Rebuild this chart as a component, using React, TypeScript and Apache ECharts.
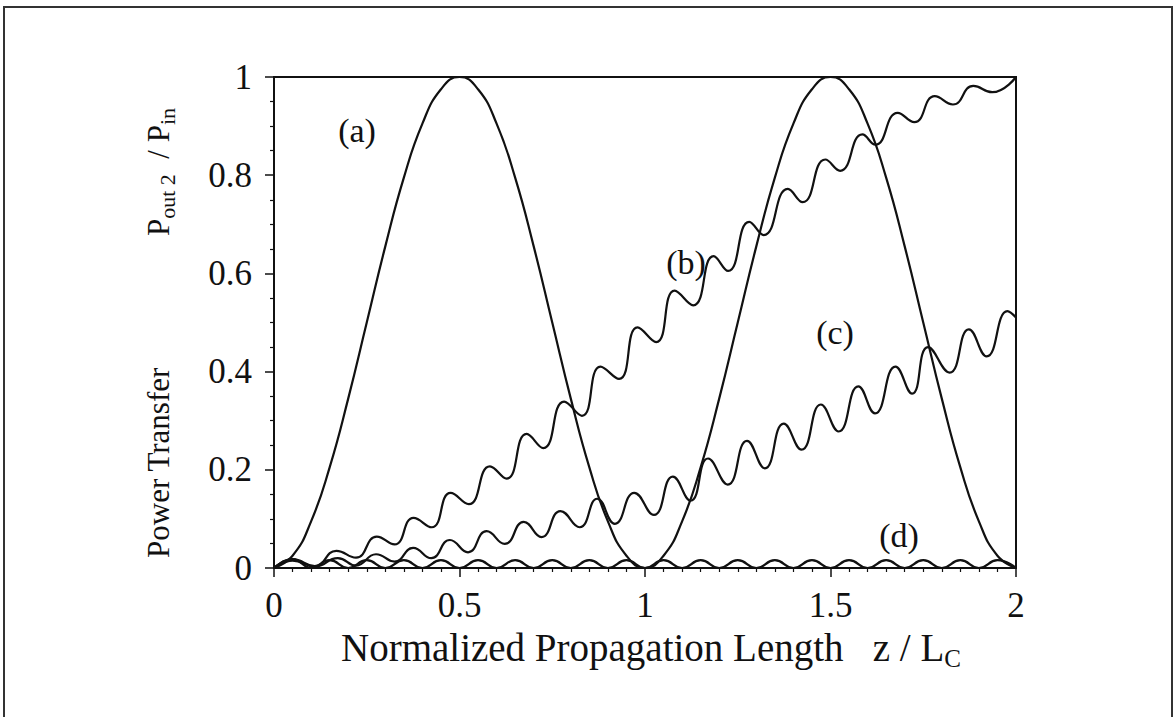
import React, { useEffect, useRef } from "react";
import * as echarts from "echarts";

// Curve (a): full power exchange between the two guides
const curveA: [number, number][] = [
  [0, 0], [0.05, 0.025], [0.1, 0.095], [0.15, 0.205], [0.2, 0.345], [0.25, 0.5],
  [0.3, 0.655], [0.35, 0.795], [0.4, 0.905], [0.45, 0.975], [0.5, 1.0],
  [0.55, 0.975], [0.6, 0.905], [0.65, 0.795], [0.7, 0.655], [0.75, 0.5],
  [0.8, 0.345], [0.85, 0.205], [0.9, 0.095], [0.95, 0.025], [1.0, 0],
  [1.05, 0.025], [1.1, 0.095], [1.15, 0.205], [1.2, 0.345], [1.25, 0.5],
  [1.3, 0.655], [1.35, 0.795], [1.4, 0.905], [1.45, 0.975], [1.5, 1.0],
  [1.55, 0.975], [1.6, 0.905], [1.65, 0.795], [1.7, 0.655], [1.75, 0.5],
  [1.8, 0.345], [1.85, 0.205], [1.9, 0.095], [1.95, 0.025], [2.0, 0],
];

// Curve (b)
const curveB: [number, number][] = [
  [0, 0], [0.05, 0.018], [0.11, 0.004], [0.168, 0.035], [0.221, 0.021],
  [0.277, 0.064], [0.325, 0.048], [0.376, 0.102], [0.425, 0.083], [0.476, 0.153],
  [0.525, 0.13], [0.582, 0.207], [0.627, 0.182], [0.681, 0.273], [0.726, 0.244],
  [0.782, 0.339], [0.83, 0.31], [0.88, 0.41], [0.93, 0.385], [0.98, 0.49],
  [1.03, 0.46], [1.08, 0.565], [1.13, 0.535], [1.185, 0.635], [1.224, 0.605],
  [1.281, 0.705], [1.32, 0.678], [1.385, 0.772], [1.425, 0.745], [1.486, 0.832],
  [1.526, 0.809], [1.586, 0.883], [1.621, 0.862], [1.681, 0.927], [1.726, 0.908],
  [1.781, 0.961], [1.83, 0.944], [1.885, 0.982], [1.936, 0.969], [2.0, 1.0],
];

// Curve (c)
const curveC: [number, number][] = [
  [0, 0], [0.05, 0.015], [0.11, 0.003], [0.172, 0.02], [0.221, 0.005],
  [0.275, 0.028], [0.325, 0.013], [0.375, 0.041], [0.424, 0.02], [0.474, 0.057],
  [0.523, 0.032], [0.573, 0.075], [0.622, 0.049], [0.673, 0.094], [0.721, 0.063],
  [0.772, 0.116], [0.824, 0.083], [0.871, 0.141], [0.919, 0.09], [0.971, 0.153],
  [1.024, 0.108], [1.075, 0.186], [1.123, 0.137], [1.17, 0.223], [1.223, 0.17],
  [1.275, 0.259], [1.323, 0.203], [1.374, 0.294], [1.422, 0.241], [1.474, 0.333],
  [1.522, 0.278], [1.575, 0.37], [1.62, 0.315], [1.675, 0.41], [1.72, 0.355],
  [1.763, 0.45], [1.821, 0.398], [1.873, 0.486], [1.921, 0.431], [1.977, 0.523],
  [2.0, 0.51],
];

// Curve (d): small ripples that never build up
const curveD: [number, number][] = [
  [0, 0], [0.05, 0.018], [0.1, 0], [0.15, 0.016], [0.2, 0], [0.25, 0.016], [0.3, 0],
  [0.35, 0.016], [0.4, 0], [0.45, 0.016], [0.5, 0], [0.55, 0.016], [0.6, 0],
  [0.65, 0.016], [0.7, 0], [0.75, 0.016], [0.8, 0], [0.85, 0.016], [0.9, 0],
  [0.95, 0.016], [1.0, 0], [1.05, 0.016], [1.1, 0], [1.15, 0.016], [1.2, 0],
  [1.25, 0.016], [1.3, 0], [1.35, 0.016], [1.4, 0], [1.45, 0.016], [1.5, 0],
  [1.55, 0.016], [1.6, 0], [1.65, 0.016], [1.7, 0], [1.75, 0.016], [1.8, 0],
  [1.85, 0.016], [1.9, 0], [1.95, 0.016], [2.0, 0],
];

const xTicks = [0, 0.5, 1, 1.5, 2];
const yTicks = [0, 0.2, 0.4, 0.6, 0.8, 1];

const curveLabels = [
  { text: "(a)", x: 357, y: 130 },
  { text: "(b)", x: 686, y: 262 },
  { text: "(c)", x: 835, y: 332 },
  { text: "(d)", x: 899, y: 535 },
];

const SERIF = '"Liberation Serif", "Times New Roman", serif';

export default function App() {
  const ref = useRef<HTMLDivElement>(null);
  useEffect(() => {
    if (!ref.current) return;
    const chart = echarts.init(ref.current, null, { renderer: "svg" });
    const lineSeries = (name: string, data: [number, number][]) => ({
      name,
      type: "line",
      data,
      smooth: 0.5,
      showSymbol: false,
      symbol: "none",
      lineStyle: { color: "#111", width: 2.2 },
      z: 3,
    });
    chart.setOption({
      animation: false,
      backgroundColor: "#fff",
      grid: {
        left: 274,
        right: 159,
        top: 77,
        bottom: 149,
        show: true,
        borderColor: "#111",
        borderWidth: 2,
        backgroundColor: "transparent",
      },
      xAxis: {
        type: "value",
        min: 0,
        max: 2,
        interval: 0.5,
        axisLine: { show: true, onZero: false, lineStyle: { color: "#111", width: 2 } },
        axisTick: { show: true, length: 9, inside: false, lineStyle: { color: "#111", width: 1.5 } },
        minorTick: { show: true, splitNumber: 10, length: 4, lineStyle: { color: "#111", width: 1.2 } },
        splitLine: { show: false },
        minorSplitLine: { show: false },
        axisLabel: {
          margin: 20,
          fontSize: 35,
          fontFamily: SERIF,
          color: "#111",
          formatter: (v: number) => (xTicks.includes(v) ? String(v) : ""),
        },
      },
      yAxis: {
        type: "value",
        min: 0,
        max: 1,
        interval: 0.2,
        axisLine: { show: true, onZero: false, lineStyle: { color: "#111", width: 2 } },
        axisTick: { show: true, length: 9, inside: false, lineStyle: { color: "#111", width: 1.5 } },
        minorTick: { show: true, splitNumber: 4, length: 4, lineStyle: { color: "#111", width: 1.2 } },
        splitLine: { show: false },
        minorSplitLine: { show: false },
        axisLabel: {
          margin: 22,
          fontSize: 35,
          fontFamily: SERIF,
          color: "#111",
          formatter: (v: number) => (yTicks.includes(v) ? String(v) : ""),
        },
      },
      series: [
        lineSeries("a", curveA),
        lineSeries("b", curveB),
        lineSeries("c", curveC),
        lineSeries("d", curveD),
      ],
      graphic: [
        {
          type: "rect",
          shape: { x: 4, y: 7, width: 1168, height: 740 },
          style: { fill: "none", stroke: "#333", lineWidth: 2 },
          silent: true,
        },
        ...curveLabels.map((l) => ({
          type: "text",
          x: l.x,
          y: l.y,
          style: {
            text: l.text,
            fontSize: 34,
            fontFamily: SERIF,
            fill: "#111",
            align: "center",
            verticalAlign: "middle",
          },
        })),
        {
          type: "text",
          x: 341,
          y: 647,
          style: {
            text: "Normalized Propagation Length   z / L{sub|C}",
            fontSize: 39,
            fontFamily: SERIF,
            fill: "#111",
            align: "left",
            verticalAlign: "middle",
            rich: {
              sub: {
                fontSize: 25,
                fontFamily: SERIF,
                fill: "#111",
                padding: [22, 0, 0, 0],
              },
            },
          },
        },
        {
          type: "text",
          x: 158,
          y: 558,
          rotation: Math.PI / 2,
          style: {
            text: "Power Transfer",
            fontSize: 31,
            fontFamily: SERIF,
            fill: "#111",
            align: "left",
            verticalAlign: "middle",
          },
        },
        {
          type: "text",
          x: 158,
          y: 236,
          rotation: Math.PI / 2,
          style: {
            text: "P{sub|out 2}  / P{sub|in}",
            fontSize: 31,
            fontFamily: SERIF,
            fill: "#111",
            align: "left",
            verticalAlign: "middle",
            rich: {
              sub: {
                fontSize: 22,
                fontFamily: SERIF,
                fill: "#111",
                padding: [18, 0, 0, 0],
              },
            },
          },
        },
      ],
    });
    return () => chart.dispose();
  }, []);
  return (
    <div
      ref={ref}
      style={{ position: "fixed", left: 0, top: 0, width: 1175, height: 717, background: "#fff" }}
    />
  );
}
